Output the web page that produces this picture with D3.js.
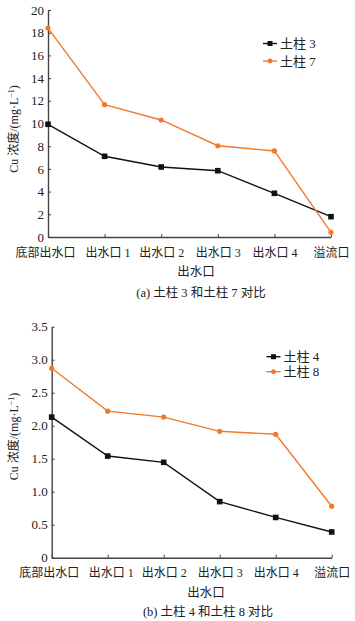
<!DOCTYPE html>
<html><head><meta charset="utf-8">
<script src="https://cdn.jsdelivr.net/npm/d3@7"></script>
<style>
body{margin:0;background:#fff;}
svg{display:block;}
text{font-family:"Liberation Serif","Noto Sans CJK SC",serif;fill:#222;}
</style></head>
<body>
<svg id="c" width="355" height="621"></svg>
<script>
const categories = ["底部出水口","出水口 1","出水口 2","出水口 3","出水口 4","溢流口"];
const soil3 = [9.93, 7.11, 6.17, 5.84, 3.85, 1.79];
const soil7 = [18.41, 11.66, 10.31, 8.04, 7.58, 0.41];
const soil4 = [2.13, 1.54, 1.445, 0.85, 0.61, 0.39];
const soil8 = [2.87, 2.22, 2.13, 1.915, 1.87, 0.78];
const ticksA = [0,2,4,6,8,10,12,14,16,18,20];
const ticksB = [0,0.5,1.0,1.5,2.0,2.5,3.0,3.5];
const namesA = ["土柱 3","土柱 7"];
const namesB = ["土柱 4","土柱 8"];
const xTitle = "出水口";
const captionA = "(a) 土柱 3 和土柱 7 对比";
const captionB = "(b) 土柱 4 和土柱 8 对比";

const svg = d3.select("#c");
const BLACK = "#111", ORANGE = "#f07a2a";

function panel(o){
  const g = svg.append("g");
  const x = d3.scalePoint().domain(categories).range([o.x0, o.x1]);
  const y = d3.scaleLinear().domain([0, o.ymax]).range([o.yb, o.yt]);
  // axes
  const yAxis = g.append("g").attr("transform",`translate(${o.x0},0)`)
    .call(d3.axisLeft(y).tickValues(o.ticks).tickFormat(o.fmt).tickSizeInner(-3).tickSizeOuter(0).tickPadding(4));
  yAxis.select(".domain").attr("stroke","#444").attr("stroke-width",1.4);
  yAxis.selectAll(".tick line").attr("stroke","#444");
  yAxis.selectAll("text").attr("font-size",13).attr("fill","#222");
  const xAxis = g.append("g").attr("transform",`translate(0,${o.yb})`)
    .call(d3.axisBottom(x).tickSizeInner(-3).tickSizeOuter(0).tickPadding(11));
  xAxis.select(".domain").attr("stroke","#444").attr("stroke-width",1.4);
  xAxis.selectAll(".tick line").attr("stroke","#444");
  xAxis.selectAll("text").attr("font-size",12).attr("fill","#222")
    .attr("dx",(d,i)=>i===0?-3:(i===1?3:0));
  // y title
  const yt = g.append("text").attr("transform",`translate(${o.ytx},${o.ytc}) rotate(-90)`)
    .attr("text-anchor","middle").attr("font-size",12).attr("fill","#222");
  yt.append("tspan").text("Cu 浓度/(mg·L");
  yt.append("tspan").attr("dy",-4).attr("font-size",8).text("−1");
  yt.append("tspan").attr("dy",4).text(")");
  // x title & caption
  g.append("text").attr("x",o.xtx).attr("y",o.xty).attr("text-anchor","middle").attr("font-size",12.5).text(xTitle);
  g.append("text").attr("x",o.capx).attr("y",o.capy).attr("text-anchor","middle").attr("font-size",12.5).text(o.caption);
  // lines
  const line = d3.line().x((d,i)=>x(categories[i])).y(d=>y(d));
  [[o.s1,BLACK,"sq"],[o.s2,ORANGE,"ci"]].forEach(([s,c,m])=>{
    g.append("path").datum(s).attr("d",line).attr("fill","none").attr("stroke",c).attr("stroke-width",1.4);
    if(m==="sq"){
      g.selectAll(null).data(s).enter().append("rect")
        .attr("x",(d,i)=>x(categories[i])-2.8).attr("y",d=>y(d)-2.8).attr("width",5.6).attr("height",5.6).attr("fill",c);
    } else {
      g.selectAll(null).data(s).enter().append("circle")
        .attr("cx",(d,i)=>x(categories[i])).attr("cy",d=>y(d)).attr("r",2.6).attr("fill",c);
    }
  });
  // legend
  o.names.forEach((n,i)=>{
    const ly = o.ly + i*o.ldy;
    const c = i===0?BLACK:ORANGE;
    g.append("line").attr("x1",o.lx).attr("x2",o.lx+14).attr("y1",ly).attr("y2",ly).attr("stroke",c).attr("stroke-width",1.4);
    if(i===0) g.append("rect").attr("x",o.lx+7-2.5).attr("y",ly-2.5).attr("width",5).attr("height",5).attr("fill",c);
    else g.append("circle").attr("cx",o.lx+7).attr("cy",ly).attr("r",2.4).attr("fill",c);
    g.append("text").attr("x",o.lx+17).attr("y",ly+4.5).attr("font-size",13).text(n);
  });
}

panel({x0:48,x1:331,yb:237,yt:10,ymax:20,ticks:ticksA,fmt:d3.format("d"),
  s1:soil3,s2:soil7,names:namesA,lx:263,ly:43.5,ldy:17.5,
  ytx:18,ytc:129,xtx:196,xty:276,caption:captionA,capx:201,capy:297});
panel({x0:51.7,x1:331.7,yb:557.7,yt:326.7,ymax:3.5,ticks:ticksB,fmt:d=>d===0?"0":d3.format(".1f")(d),
  s1:soil4,s2:soil8,names:namesB,lx:266.5,ly:356.7,ldy:15,
  ytx:18,ytc:436.5,xtx:206,xty:597,caption:captionB,capx:208,capy:616});
</script>
</body></html>
